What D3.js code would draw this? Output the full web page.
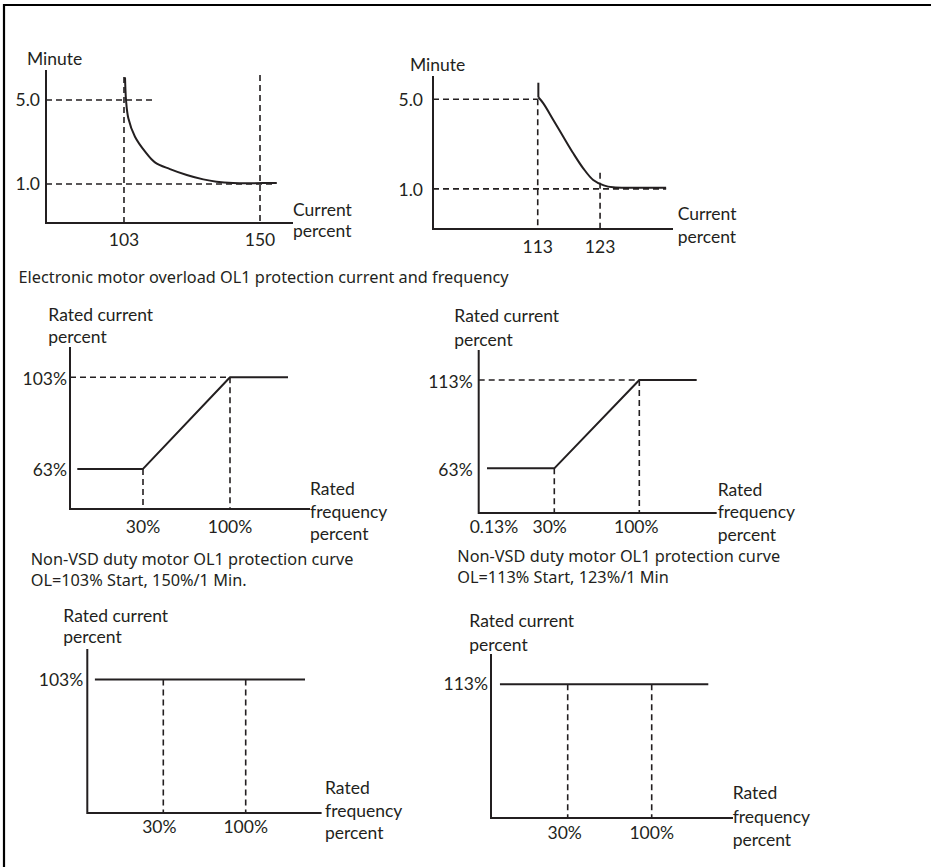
<!DOCTYPE html>
<html><head><meta charset="utf-8">
<script src="https://cdn.jsdelivr.net/npm/d3@7"></script>
<style>
body{margin:0;background:#fff;}
svg{display:block;}
.lbl{font-family:Lato,"Open Sans",sans-serif;font-size:17.5px;fill:#231f20;}
.cap{font-family:"Noto Sans","Open Sans",sans-serif;font-size:16.3px;fill:#231f20;}
</style></head><body>
<svg id="c" width="931" height="867"></svg>
<script>
// ---------------- data ----------------
const minuteTicks = [5.0, 1.0];
const tripTicks103 = [103, 150];
const tripTicks113 = [113, 123];
// OL1 trip curve, start at 103 % (current %, minutes)
const tripCurve103 = [[103.35,6.08],[103.5,5.5],[103.7,5.0],[104.5,4.13],[106.8,3.25],[110.3,2.54],[113.7,2.03],[118.9,1.71],[124.7,1.43],[130.4,1.22],[135.0,1.11],[140.7,1.05],[147.6,1.04],[155.8,1.05]];
// OL1 trip curve, start at 113 %
const tripCurve113 = [[113.1,5.74],[113.1,5.09],[113.9,4.82],[115.5,4.08],[117.1,3.33],[118.7,2.59],[120.3,1.92],[121.9,1.40],[123.6,1.16],[125.1,1.07],[128.3,1.05],[133.6,1.05]];
const freqTicks = [30, 100];
const freqTicksB = [0.13, 30, 100];
const currLevels103 = [103, 63];
const currLevels113 = [113, 63];
// rated current % vs rated frequency %
const olCurve103 = [[3,63],[30,63],[100,103],[150,103]];
const olCurve113 = [[0.13,63],[30,63],[100,113],[150,113]];
const flat103 = [[3,103],[150,103]];
const flat113 = [[3.5,113],[150,113]];
const titleText = "Electronic motor overload OL1 protection current and frequency";
const captionA = ["Non-VSD duty motor OL1 protection curve","OL=103% Start, 150%/1 Min."];
const captionB = ["Non-VSD duty motor OL1 protection curve","OL=113% Start, 123%/1 Min"];

// ---------------- drawing ----------------
const svg = d3.select("#c");
const INK = "#231f20";
svg.append("path").attr("d","M4,867V5H931").attr("fill","none").attr("stroke","#000").attr("stroke-width",2.2);

function panel(cfg){
  const g = svg.append("g");
  const x = d3.scaleLinear().domain(cfg.xd).range(cfg.xr);
  const y = d3.scaleLinear().domain(cfg.yd).range(cfg.yr);
  const xMin = cfg.xd[0], xMax = cfg.xMax, yMin = cfg.yd[0], yMax = cfg.yd[cfg.yd.length-1];
  g.append("path").attr("d", d3.line()([[x(xMin),y(yMax)],[x(xMin),y(yMin)],[x(xMax),y(yMin)]]))
    .attr("fill","none").attr("stroke",INK).attr("stroke-width",2);
  (cfg.hGuides||[]).forEach(h=>{
    g.append("line").attr("x1",x(xMin)).attr("x2",x(h.to)).attr("y1",y(h.v)).attr("y2",y(h.v))
     .attr("stroke",INK).attr("stroke-width",1.6).attr("stroke-dasharray","6,4");
  });
  (cfg.vGuides||[]).forEach(v=>{
    g.append("line").attr("x1",x(v.v)).attr("x2",x(v.v)).attr("y1",y(v.from)).attr("y2",y(yMin))
     .attr("stroke",INK).attr("stroke-width",1.6).attr("stroke-dasharray","6,4");
  });
  (cfg.curves||[]).forEach(c=>{
    g.append("path").datum(c.data)
     .attr("d", d3.line().x(d=>x(d[0])).y(d=>y(d[1])).curve(c.curve||d3.curveLinear))
     .attr("fill","none").attr("stroke",INK).attr("stroke-width",2).attr("stroke-linejoin","round");
  });
  cfg.yTicks.forEach(t=>{
    g.append("text").attr("class","lbl").attr("text-anchor","end")
     .attr("x", x(xMin)-cfg.yPad).attr("y", y(t)+cfg.yBase).text(cfg.yFmt(t));
  });
  cfg.xTicks.forEach((t,i)=>{
    g.append("text").attr("class","lbl").attr("text-anchor","middle")
     .attr("x", x(t)+(cfg.xDx?cfg.xDx[i]:0)).attr("y", cfg.xLblY).text(cfg.xFmt(t));
  });
  cfg.yTitle.forEach((s,i)=>{
    g.append("text").attr("class","lbl").attr("x",cfg.yTitlePos[0]).attr("y",cfg.yTitlePos[1]+i*cfg.yTitleGap).text(s);
  });
  cfg.xTitle.forEach((s,i)=>{
    g.append("text").attr("class","lbl").attr("x",cfg.xTitlePos[0]).attr("y",cfg.xTitlePos[1]+i*cfg.xTitleGap).text(s);
  });
  (cfg.caption||[]).forEach((s,i)=>{
    g.append("text").attr("class","cap").attr("x",cfg.capPos[0]).attr("y",cfg.capPos[1]+i*cfg.capGap).text(s);
  });
}
const f1 = d3.format(".1f");
const pct = t=>t+"%";
const num = t=>String(t);
const smooth = d3.curveCatmullRom.alpha(0.5);

// Panel 1
panel({xd:[76.05,161.4], xr:[46,293], xMax:161.4, yd:[-0.857,6.43], yr:[223,70],
  hGuides:[{v:5,to:113},{v:1,to:155.2}], vGuides:[{v:103,from:6.1},{v:150,from:6.19}],
  curves:[{data:tripCurve103,curve:smooth}],
  yTicks:minuteTicks, yFmt:f1, yPad:6, yBase:6,
  xTicks:tripTicks103, xFmt:num, xLblY:246,
  yTitle:["Minute"], yTitlePos:[27,65], yTitleGap:0,
  xTitle:["Current","percent"], xTitlePos:[293,216], xTitleGap:21});
// Panel 2
panel({xd:[96.2,134.7], xr:[433,673], xMax:134.7, yd:[-0.79,6.04], yr:[229,76],
  hGuides:[{v:5,to:113},{v:1,to:133.6}], vGuides:[{v:113,from:5},{v:123,from:1.72}],
  curves:[{data:tripCurve113.slice(0,2)},{data:tripCurve113.slice(1),curve:smooth}],
  yTicks:minuteTicks, yFmt:f1, yPad:10, yBase:7,
  xTicks:tripTicks113, xFmt:num, xLblY:253,
  yTitle:["Minute"], yTitlePos:[410,70.5], yTitleGap:0,
  xTitle:["Current","percent"], xTitlePos:[677.7,220], xTitleGap:22.5});

svg.append("text").attr("class","cap").attr("x",18.5).attr("y",283.3).text(titleText);

// Panel 3
panel({xd:[0,30,100,150], xr:[70,143,230,288], xMax:169, yd:[45.5,116.2], yr:[509,347],
  hGuides:[{v:103,to:100}], vGuides:[{v:30,from:63},{v:100,from:103}],
  curves:[{data:olCurve103}],
  yTicks:currLevels103, yFmt:pct, yPad:3, yBase:7.5,
  xTicks:freqTicks, xFmt:pct, xLblY:532.7,
  yTitle:["Rated current","percent"], yTitlePos:[48.3,321], yTitleGap:22.3,
  xTitle:["Rated","frequency","percent"], xTitlePos:[310,495], xTitleGap:22.5,
  caption:captionA, capPos:[30.7,565], capGap:21});
// Panel 4
panel({xd:[0,0.13,30,100,150], xr:[478.7,487,554.3,639.3,696.7], xMax:167.4, yd:[37.7,130], yr:[513,350],
  hGuides:[{v:113,to:100}], vGuides:[{v:30,from:63},{v:100,from:113}],
  curves:[{data:olCurve113}],
  yTicks:currLevels113, yFmt:pct, yPad:6, yBase:7.5,
  xTicks:freqTicksB, xFmt:pct, xDx:[7,-4.6,-3], xLblY:533.3,
  yTitle:["Rated current","percent"], yTitlePos:[454.3,321.7], yTitleGap:24.3,
  xTitle:["Rated","frequency","percent"], xTitlePos:[717.7,496], xTitleGap:22.3,
  caption:captionB, capPos:[457.3,562.3], capGap:20.6});
// Panel 5
panel({xd:[0,30,100,150], xr:[87.3,163.3,245.7,305], xMax:164, yd:[45.5,116.2], yr:[813,649],
  vGuides:[{v:30,from:103},{v:100,from:103}],
  curves:[{data:flat103}],
  yTicks:[103], yFmt:pct, yPad:4, yBase:6,
  xTicks:freqTicks, xFmt:pct, xDx:[-4,0], xLblY:832.7,
  yTitle:["Rated current","percent"], yTitlePos:[63.3,621.7], yTitleGap:21.6,
  xTitle:["Rated","frequency","percent"], xTitlePos:[325,794], xTitleGap:22.6});
// Panel 6
panel({xd:[0,30,100,150], xr:[491,567.7,651.7,708.3], xMax:171.8, yd:[37.7,130], yr:[818,654],
  vGuides:[{v:30,from:113},{v:100,from:113}],
  curves:[{data:flat113}],
  yTicks:[113], yFmt:pct, yPad:3, yBase:6,
  xTicks:freqTicks, xFmt:pct, xDx:[-3,0], xLblY:839.3,
  yTitle:["Rated current","percent"], yTitlePos:[469.3,627.3], yTitleGap:23.4,
  xTitle:["Rated","frequency","percent"], xTitlePos:[732.7,799.3], xTitleGap:23.3});
</script>
</body></html>
